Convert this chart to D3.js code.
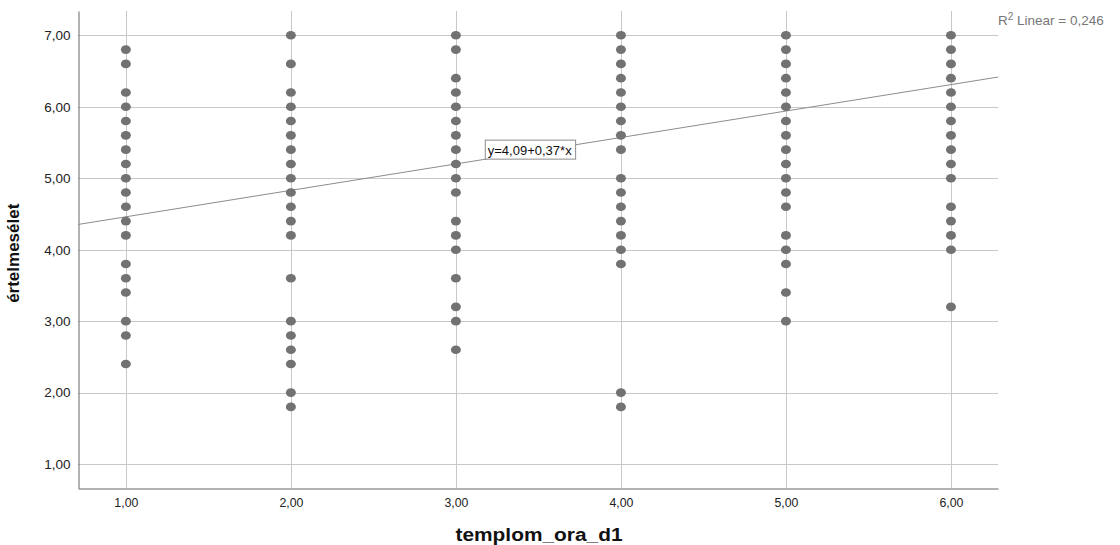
<!DOCTYPE html>
<html>
<head>
<meta charset="utf-8">
<script src="https://cdn.jsdelivr.net/npm/d3@7"></script>
<style>
  html, body { margin: 0; padding: 0; background: #fff; }
  svg { display: block; font-family: Arial, "Liberation Sans", sans-serif; }
</style>
</head>
<body>
<svg id="chart" width="1120" height="545"></svg>
<script>
// templom_ora_d1 kategóriák és az értelmesélet értékei oszloponként
const xValues = [1, 2, 3, 4, 5, 6];
const col1 = [6.8, 6.6, 6.2, 6.0, 5.8, 5.6, 5.4, 5.2, 5.0, 4.8, 4.6, 4.4, 4.2, 3.8, 3.6, 3.4, 3.0, 2.8, 2.4];
const col2 = [7.0, 6.6, 6.2, 6.0, 5.8, 5.6, 5.4, 5.2, 5.0, 4.8, 4.6, 4.4, 4.2, 3.6, 3.0, 2.8, 2.6, 2.4, 2.0, 1.8];
const col3 = [7.0, 6.8, 6.4, 6.2, 6.0, 5.8, 5.6, 5.4, 5.2, 5.0, 4.8, 4.4, 4.2, 4.0, 3.6, 3.2, 3.0, 2.6];
const col4 = [7.0, 6.8, 6.6, 6.4, 6.2, 6.0, 5.8, 5.6, 5.4, 5.0, 4.8, 4.6, 4.4, 4.2, 4.0, 3.8, 2.0, 1.8];
const col5 = [7.0, 6.8, 6.6, 6.4, 6.2, 6.0, 5.8, 5.6, 5.4, 5.2, 5.0, 4.8, 4.6, 4.2, 4.0, 3.8, 3.4, 3.0];
const col6 = [7.0, 6.8, 6.6, 6.4, 6.2, 6.0, 5.8, 5.6, 5.4, 5.2, 5.0, 4.6, 4.4, 4.2, 4.0, 3.2];
const columns = [col1, col2, col3, col4, col5, col6];

const xTicks = [1, 2, 3, 4, 5, 6];
const yTicks = [1, 2, 3, 4, 5, 6, 7];

// illesztett egyenes: y = 4,09 + 0,37*x
const intercept = 4.09;
const slope = 0.37;
const r2 = 0.246;

const fmt = d => d3.format(".2f")(d).replace(".", ",");

const W = 1120, H = 545;
const m = { left: 78, right: 122, top: 11, bottom: 57 };

const svg = d3.select('#chart');

const x = d3.scaleLinear().domain([0.71, 6.285]).range([m.left, W - m.right]);
const y = d3.scaleLinear().domain([0.665, 7.34]).range([H - m.bottom, m.top]);

const points = [];
columns.forEach((col, i) => col.forEach(v => points.push({ x: xValues[i], y: v })));

// rács
const grid = svg.append('g');
grid.selectAll('.hg').data(yTicks).enter().append('line')
  .attr('x1', m.left).attr('x2', W - m.right)
  .attr('y1', d => Math.round(y(d)) + 0.5).attr('y2', d => Math.round(y(d)) + 0.5)
  .attr('stroke', '#c8c8c8');
grid.selectAll('.vg').data(xTicks).enter().append('line')
  .attr('y1', m.top).attr('y2', H - m.bottom)
  .attr('x1', d => Math.round(x(d)) + 0.5).attr('x2', d => Math.round(x(d)) + 0.5)
  .attr('stroke', '#c8c8c8');

// tengelyek
const xAxis = svg.append('g')
  .attr('transform', `translate(0,${H - m.bottom + 0.5})`)
  .call(d3.axisBottom(x).tickValues(xTicks).tickFormat(fmt).tickSize(0).tickPadding(9));
const yAxis = svg.append('g')
  .attr('transform', `translate(${m.left + 0.5},0)`)
  .call(d3.axisLeft(y).tickValues(yTicks).tickFormat(fmt).tickSize(0).tickPadding(8));
[xAxis, yAxis].forEach(a => {
  a.select('.domain').attr('stroke', '#666');
  a.selectAll('text').attr('fill', '#222');
});
yAxis.selectAll('text').style('font-size', '13.5px');
xAxis.selectAll('text').style('font-size', '13px').attr('transform', 'scale(0.95,1)');

// regressziós egyenes
const x0 = x.domain()[0], x1 = x.domain()[1];
svg.append('line')
  .attr('x1', x(x0)).attr('y1', y(intercept + slope * x0))
  .attr('x2', x(x1)).attr('y2', y(intercept + slope * x1))
  .attr('stroke', '#8c8c8c').attr('stroke-width', 1);

// pontok
svg.append('g').selectAll('ellipse').data(points).enter().append('ellipse')
  .attr('cx', d => x(d.x)).attr('cy', d => y(d.y))
  .attr('rx', 5).attr('ry', 4.3)
  .attr('fill', '#727272');

// egyenlet címke
const lab = svg.append('g').attr('transform', `translate(${x(3.175)},${y(5.54)})`);
const labText = lab.append('text').attr('x', 3).attr('y', 15)
  .style('font-size', '13px').attr('fill', '#111')
  .text('y=' + d3.format(".2f")(intercept).replace(".", ",") + '+' + d3.format(".2f")(slope).replace(".", ",") + '*x');
const bb = labText.node().getBBox();
lab.insert('rect', 'text')
  .attr('x', 0.5).attr('y', 0.5)
  .attr('width', bb.width + 6).attr('height', 19)
  .attr('fill', '#fff').attr('stroke', '#8c8c8c');

// R² felirat
const r2t = svg.append('text').attr('x', 998).attr('y', 25)
  .style('font-size', '13.5px').attr('fill', '#777');
r2t.append('tspan').text('R');
r2t.append('tspan').attr('dy', -5).style('font-size', '10px').text('2');
r2t.append('tspan').attr('dy', 5).text(' Linear = ' + d3.format(".3f")(r2).replace(".", ","));

// tengelycímek
svg.append('text')
  .attr('x', 539).attr('y', 541)
  .attr('text-anchor', 'middle')
  .attr('textLength', 167).attr('lengthAdjust', 'spacingAndGlyphs')
  .style('font-size', '18px').style('font-weight', 'bold').attr('fill', '#111')
  .text('templom_ora_d1');
svg.append('text')
  .attr('transform', `translate(19,${y(3.95)}) rotate(-90)`)
  .attr('text-anchor', 'middle')
  .style('font-size', '17px').style('font-weight', 'bold').attr('fill', '#111')
  .text('értelmesélet');
</script>
</body>
</html>
